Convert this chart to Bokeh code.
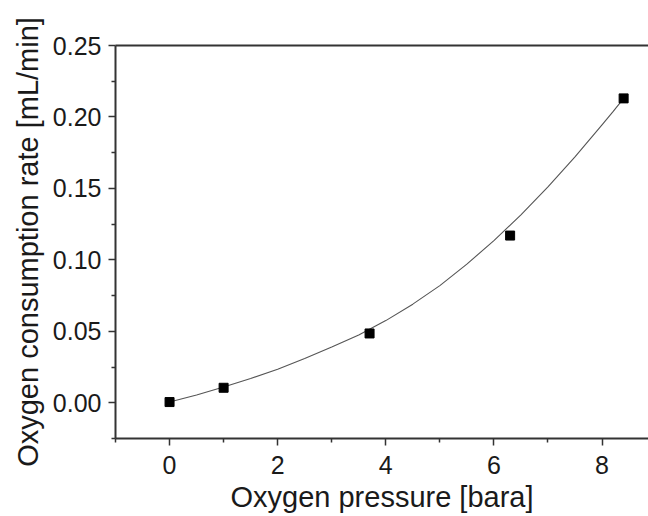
from bokeh.plotting import figure
from bokeh.models import (ColumnDataSource, FixedTicker, PrintfTickFormatter,
                          LinearAxis, Range1d)
from bokeh.embed import file_html
from bokeh.resources import INLINE

# Measured data points
pressure = [0.0, 1.0, 3.7, 6.3, 8.4]
rate = [0.0005, 0.0105, 0.0485, 0.117, 0.213]

# Fitted curve
fit_x = [0.0, 0.5, 1.0, 1.5, 2.0, 2.5, 3.0, 3.5, 4.0, 4.5, 5.0, 5.5, 6.0, 6.5,
         7.0, 7.5, 8.0, 8.2, 8.4]
fit_y = [0.0005, 0.0055, 0.011, 0.017, 0.0235, 0.031, 0.039, 0.0475, 0.0575,
         0.069, 0.082, 0.097, 0.1135, 0.1315, 0.151, 0.172, 0.1945, 0.2035, 0.213]

x_ticks = [0, 2, 4, 6, 8]
x_minor = [-1, 1, 3, 5, 7]
y_ticks = [0.0, 0.05, 0.10, 0.15, 0.20, 0.25]
y_minor = [-0.025, 0.025, 0.075, 0.125, 0.175, 0.225]

FONT = "Liberation Sans"

p = figure(width=648, height=516, output_backend="svg", toolbar_location=None,
           x_range=Range1d(-1.0, 8.86), y_range=Range1d(-0.025, 0.25),
           min_border_left=115, min_border_right=0, min_border_top=45,
           min_border_bottom=78)
p.outline_line_color = None
p.grid.visible = False
p.background_fill_color = "white"
p.border_fill_color = "white"

src_fit = ColumnDataSource(dict(x=fit_x, y=fit_y))
p.line("x", "y", source=src_fit, line_color="#555555", line_width=1.1,
       line_join="round")
src = ColumnDataSource(dict(x=pressure, y=rate))
p.scatter("x", "y", source=src, marker="square", size=9, fill_color="black",
          line_color="black")

for ax in (p.xaxis[0], p.yaxis[0]):
    ax.axis_line_width = 2
    ax.axis_line_color = "#333333"
    ax.major_tick_line_color = "#333333"
    ax.minor_tick_line_color = "#333333"
    ax.major_tick_line_width = 1.5
    ax.minor_tick_line_width = 1.5
    ax.major_tick_out = 7
    ax.major_tick_in = 0
    ax.minor_tick_out = 4
    ax.minor_tick_in = 0
    ax.major_label_text_font = FONT
    ax.major_label_text_font_size = "25px"
    ax.major_label_text_color = "#1a1a1a"
    ax.axis_label_text_font = FONT
    ax.axis_label_text_font_size = "29px"
    ax.axis_label_text_font_style = "normal"
    ax.axis_label_text_color = "#1a1a1a"

p.xaxis[0].ticker = FixedTicker(ticks=x_ticks, minor_ticks=x_minor)
p.xaxis[0].formatter = PrintfTickFormatter(format="%d")
p.xaxis[0].axis_label = "Oxygen pressure [bara]"
p.xaxis[0].major_label_standoff = 10
p.xaxis[0].axis_label_standoff = 4

p.yaxis[0].ticker = FixedTicker(ticks=y_ticks, minor_ticks=y_minor)
p.yaxis[0].formatter = PrintfTickFormatter(format="%.2f")
p.yaxis[0].axis_label = "Oxygen consumption rate [mL/min]"
p.yaxis[0].major_label_standoff = 7
p.yaxis[0].axis_label_standoff = 6

top = LinearAxis(ticker=FixedTicker(ticks=[]), axis_line_width=2,
                 axis_line_color="#333333", major_tick_line_color=None,
                 minor_tick_line_color=None, major_label_text_font_size="0px")
p.add_layout(top, "above")

open("out.html", "w").write(file_html(p, INLINE))
